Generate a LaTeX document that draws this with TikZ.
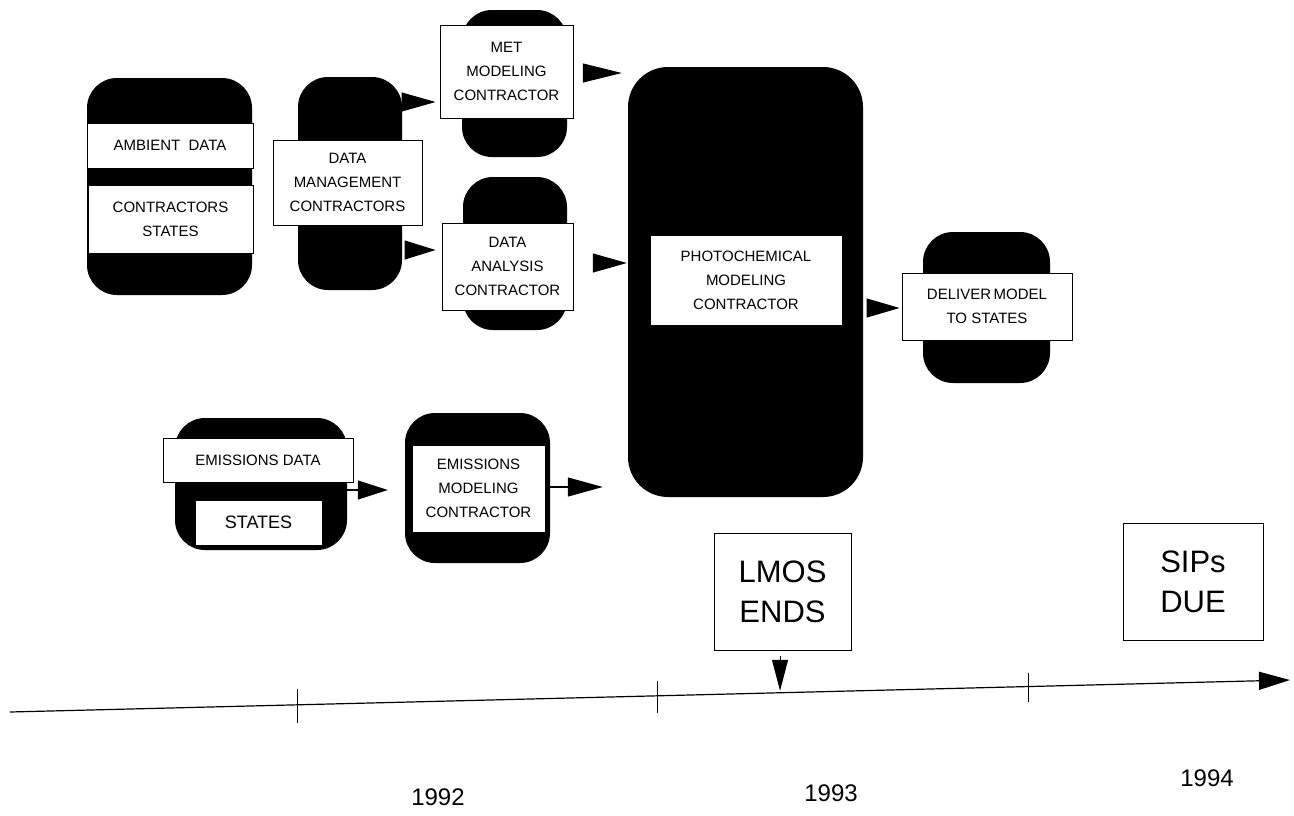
\documentclass[tikz,border=0pt]{standalone}
\usepackage{fontspec}
\setmainfont{Liberation Sans}
\usetikzlibrary{arrows.meta,calc}
\newcommand\lblfont{\fontsize{15}{24}\selectfont}
\newcommand\bigfont{\fontsize{31}{40}\selectfont}
\newcommand\yearfont{\fontsize{24}{28}\selectfont}
\begin{document}
\begin{tikzpicture}[x=1pt,y=-1pt,
  blk/.style={fill=black,draw=none,rounded corners=30pt,inner sep=0pt},
  wbox/.style={fill=white,draw=black,line width=0.9pt,inner sep=0pt,align=center,font=\lblfont},
  bigbox/.style={fill=white,draw=black,line width=1pt,inner sep=0pt,align=center,font=\bigfont},
  tri/.style={line width=1pt,-{Triangle[length=#1,width=19pt]}},
  tri/.default=32pt,
  trishaft/.style={line width=1.2pt,-{Triangle[length=30pt,width=19pt]}},
  axisarrow/.style={line width=1.2pt,-{Triangle[length=31pt,width=18pt]}},
  tick/.style={line width=0.9pt},
  year/.style={font=\yearfont,inner sep=0pt}]
\useasboundingbox (0,0) rectangle (1294,815);

% ambient data block
\node[blk,minimum width=165pt,minimum height=217pt] (ambblk) at (169.5,186.5) {};
\node[wbox,minimum width=166pt,minimum height=45pt] (ambdata) at (170,145.5) {AMBIENT\ \ DATA};
\node[wbox,minimum width=165pt,minimum height=68pt] (ambcon) at (170.5,219) {CONTRACTORS\\STATES};

% data management
\node[blk,minimum width=104pt,minimum height=213pt] (dmblk) at (350,183.5) {};
\node[wbox,minimum width=149pt,minimum height=85pt] (dmbox) at (347.5,182.5) {DATA\\MANAGEMENT\\CONTRACTORS};

% met modeling
\node[blk,minimum width=105pt,minimum height=147pt] (metblk) at (514.5,83.5) {};
\node[wbox,minimum width=133pt,minimum height=93pt] (metbox) at (506.5,71.5) {MET\\MODELING\\CONTRACTOR};

% data analysis
\node[blk,minimum width=104pt,minimum height=153pt] (dablk) at (515,253.5) {};
\node[wbox,minimum width=131pt,minimum height=87pt] (dabox) at (507.5,266.5) {DATA\\ANALYSIS\\CONTRACTOR};

% photochemical
\node[blk,rounded corners=40pt,minimum width=235pt,minimum height=430pt] (photo) at (745.5,282) {};
\node[wbox,minimum width=192pt,minimum height=90pt] (photobox) at (746,280) {PHOTOCHEMICAL\\MODELING\\CONTRACTOR};

% deliver
\node[blk,minimum width=127pt,minimum height=151pt] (delblk) at (986.5,307.5) {};
\node[wbox,minimum width=170pt,minimum height=67pt] (delbox) at (987,306.5) {DELIVER\,MODEL\\TO STATES};

% emissions data
\node[blk,minimum width=172pt,minimum height=132pt] (emdblk) at (261,484) {};
\node[wbox,minimum width=190pt,minimum height=44pt] (emdata) at (258,460) {EMISSIONS DATA};
\node[wbox,font=\fontsize{18}{22}\selectfont,minimum width=127pt,minimum height=45pt] (emstates) at (258.5,522.5) {STATES};

% emissions modeling
\node[blk,minimum width=145pt,minimum height=150pt] (emmblk) at (477.5,488) {};
\node[wbox,minimum width=133pt,minimum height=87pt] (emmbox) at (478.5,488.5) {EMISSIONS\\MODELING\\CONTRACTOR};

% milestones
\node[bigbox,minimum width=137pt,minimum height=117pt] (lmos) at (782.5,591.5) {LMOS\\ENDS};
\node[bigbox,minimum width=140pt,minimum height=117pt] (sips) at (1193,581.5) {SIPs\\DUE};

% arrows between blocks (triangle heads only)
\draw[tri=34pt] (dmblk.east |- 0,102) -- ([xshift=-4pt]metbox.west |- 0,102);
\draw[tri=31pt] ([xshift=3pt]dmblk.east |- 0,250) -- ([xshift=-6pt]dabox.west |- 0,250);
\draw[tri=39pt] ([xshift=10pt]metbox.east |- 0,73) -- ([xshift=-6pt]photo.west |- 0,73);
\draw[tri=34pt] ([xshift=20pt]dabox.east |- 0,263) -- ([xshift=-1pt]photo.west |- 0,263);
\draw[tri=33pt] ([xshift=4pt]photo.east |- 0,308) -- ([xshift=-2pt]delbox.west |- 0,308);
\draw[trishaft] ([xshift=-4pt]emdblk.east |- 0,490) -- ([xshift=-17pt]emmblk.west |- 0,490);
\draw[trishaft,-{Triangle[length=35pt,width=19pt]}] (emmblk.east |- 0,487) -- ([xshift=-25pt]photo.west |- 0,487);

% time axis
\coordinate (ax0) at (10,712);
\coordinate (ax1) at (1290,680);
\draw[axisarrow] (ax0) -- (ax1);
\coordinate (t1) at ($(ax0)!0.2242!(ax1)$);
\coordinate (t2) at ($(ax0)!0.5055!(ax1)$);
\coordinate (t3) at ($(ax0)!0.7953!(ax1)$);
\coordinate (tl) at ($(ax0)!0.6016!(ax1)$);
\draw[tick] (t1) ++(0,-16) -- ++(0,34);
\draw[tick] (t2) ++(0,-15) -- ++(0,32);
\draw[tick] (t3) ++(0,-14) -- ++(0,29);
\draw[line width=1pt,-{Triangle[length=31pt,width=16pt]}] ([yshift=-5pt]lmos.south -| tl) -- ([yshift=2pt]tl);

% years
\node[year] (y92) at (438,797) {1992};
\node[year] (y93) at (831,793) {1993};
\node[year] (y94) at (1207,778) {1994};
\end{tikzpicture}
\end{document}
